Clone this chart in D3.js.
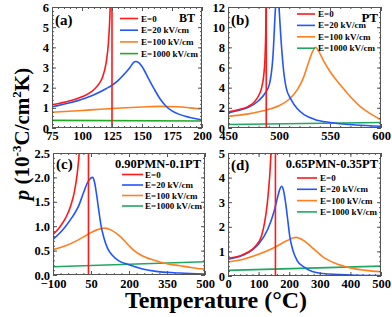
<!DOCTYPE html>
<html>
<head>
<meta charset="utf-8">
<script src="https://d3js.org/d3.v7.min.js"></script>
<style>
  body { margin: 0; background: #fff; }
  svg text { font-family: "Liberation Serif", "Times New Roman", serif; font-weight: bold; }
  .axis text { font-size: 12.5px; fill: #000; }
  .axis line { stroke: #555; }
  .axis path { display: none; }
  .frame { fill: none; stroke: #555; stroke-width: 1; }
  .curve { fill: none; stroke-width: 1.6; }
</style>
</head>
<body>
<script>
// ---- data ----
var legendLabels = ["E=0", "E=20 kV/cm", "E=100 kV/cm", "E=1000 kV/cm"];
var panelTags = ["(a)", "(b)", "(c)", "(d)"];
var panelNames = ["BT", "PT", "0.90PMN-0.1PT", "0.65PMN-0.35PT"];
var curieT = [125, 487.5, 40, 155];

// (a) BT
var btX = [75, 200], btY = [0, 6];
var btXTicks = [75, 100, 125, 150, 175, 200];
var btYTicks = [0, 1, 2, 3, 4, 5, 6];
var btE0 = [[75,1.15],[90,1.35],[100,1.55],[108,1.8],[113,2.1],[117,2.5],[120,3.2],[122,4.2],[123,5.2],[123.8,6.5]];
var btE20 = [[75,1.05],[90,1.25],[100,1.43],[110,1.65],[120,1.95],[125,2.12],[130,2.35],[135,2.66],[140,3.0],[143,3.25],[145,3.3],[147,3.25],[150,3.05],[155,2.5],[160,1.95],[165,1.45],[170,1.08],[175,0.85],[180,0.7],[190,0.52],[200,0.4]];
var btE100 = [[75,0.78],[100,0.87],[125,0.97],[150,1.04],[165,1.07],[180,1.05],[190,1.0],[200,0.94]];
var btE1000 = [[75,0.38],[200,0.35]];

// (b) PT
var ptX = [450, 600], ptY = [0, 12];
var ptXTicks = [450, 500, 550, 600];
var ptYTicks = [0, 2, 4, 6, 8, 10, 12];
var ptE0 = [[450,1.6],[460,1.8],[470,2.15],[476,2.6],[480,3.2],[483,4.0],[485,5.2],[486.3,7],[487,9.5],[487.4,12.5]];
var ptE20 = [[450,1.5],[460,1.75],[470,2.05],[480,2.7],[486,3.4],[490.5,4.3],[494,7],[496.6,12],[498.3,14],[500,12],[501.5,9.5],[504,6.2],[507,4.0],[512,2.8],[518,1.9],[525,1.3],[535,0.85],[550,0.55],[575,0.3],[600,0.18]];
var ptE100 = [[450,1.15],[470,1.4],[490,1.85],[500,2.2],[510,2.85],[518,3.8],[524,5.0],[529,6.5],[533,7.6],[536,8.0],[539,7.6],[544,6.6],[550,5.6],[555,4.9],[560,4.3],[570,3.1],[580,2.1],[590,1.4],[600,0.8]];
var ptE1000 = [[450,0.35],[600,0.55]];

// (c) 0.90PMN-0.1PT
var pmn10X = [-100, 500], pmn10Y = [0, 2.5];
var pmn10XTicks = [-100, 50, 200, 350, 500];
var pmn10YTicks = [0, 0.5, 1.0, 1.5, 2.0, 2.5];
var pmn10E0 = [[-100,0.83],[-75,0.97],[-50,1.17],[-30,1.42],[-15,1.72],[-5,2.05],[2,2.4],[6,2.7]];
var pmn10E20 = [[-100,0.73],[-75,0.85],[-50,1.0],[-25,1.18],[0,1.4],[20,1.68],[35,1.88],[48,1.98],[56,2.0],[64,1.9],[72,1.65],[80,1.35],[90,1.0],[100,0.78],[115,0.55],[135,0.4],[160,0.29],[200,0.21],[250,0.13],[300,0.08],[400,0.04],[500,0.02]];
var pmn10E100 = [[-100,0.52],[-50,0.6],[0,0.72],[40,0.84],[75,0.93],[105,0.96],[130,0.92],[165,0.79],[200,0.6],[220,0.5],[250,0.4],[300,0.3],[350,0.23],[400,0.19],[450,0.15],[500,0.12]];
var pmn10E1000 = [[-100,0.17],[500,0.27]];

// (d) 0.65PMN-0.35PT
var pmn35X = [0, 500], pmn35Y = [0, 5];
var pmn35XTicks = [0, 100, 200, 300, 400, 500];
var pmn35YTicks = [0, 1, 2, 3, 4, 5];
var pmn35E0 = [[0,0.72],[50,0.88],[90,1.22],[110,1.65],[120,2.2],[128,2.9],[134,3.7],[138,4.4],[142,5.4]];
var pmn35E20 = [[0,0.68],[50,0.85],[100,1.3],[130,1.9],[150,2.6],[162,3.2],[170,3.55],[175,3.65],[180,3.55],[188,3.0],[195,2.3],[202,1.6],[212,1.05],[225,0.65],[250,0.35],[275,0.18],[310,0.1],[400,0.04],[500,0.02]];
var pmn35E100 = [[0,0.57],[50,0.68],[100,0.88],[150,1.15],[190,1.42],[222,1.57],[250,1.42],[280,1.1],[310,0.78],[350,0.52],[400,0.33],[450,0.23],[500,0.17]];
var pmn35E1000 = [[0,0.23],[500,0.4]];

var colors = ["#ff1a1a", "#2255ff", "#ff7f1e", "#1fa860"];

// ---- layout ----
var width = 392, height = 317;
var svg = d3.select("body").append("svg").attr("width", width).attr("height", height);

var panels = [
  { box: [52, 202, 7, 128], xd: btX, yd: btY, xt: btXTicks, yt: btYTicks, xm: 5, ym: 0.2, fmt: d3.format("d"),
    series: [btE0, btE20, btE100, btE1000], green: "#22aa22", pad: 3,
    tag: [55, 25], name: [195, 22, 12], leg: [120, 138, 141, 18.5, 11.7] },
  { box: [228, 381, 7, 128], xd: ptX, yd: ptY, xt: ptXTicks, yt: ptYTicks, xm: 10, ym: 0.5, fmt: d3.format("d"),
    series: [ptE0, ptE20, ptE100, ptE1000], green: colors[3], pad: 3,
    tag: [231, 25], name: [378, 22, 13], leg: [297, 315, 318, 14, 11.4] },
  { box: [53, 205, 153, 275], xd: pmn10X, yd: pmn10Y, xt: pmn10XTicks, yt: pmn10YTicks, xm: 30, ym: 0.1, fmt: d3.format(".1f"),
    series: [pmn10E0, pmn10E20, pmn10E100, pmn10E1000], green: colors[3], pad: 4,
    tag: [56, 169], name: [201, 168, 12.5], leg: [122, 143, 145, 174.5, 10.5] },
  { box: [228, 381, 153, 276], xd: pmn35X, yd: pmn35Y, xt: pmn35XTicks, yt: pmn35YTicks, xm: 20, ym: 0.2, fmt: d3.format("d"),
    series: [pmn35E0, pmn35E20, pmn35E100, pmn35E1000], green: colors[3], pad: 3,
    tag: [231, 170], name: [378, 168, 12.5], leg: [297, 317, 320, 178, 11.3] }
];

var line = d3.line().x(function(d){ return d[0]; }).y(function(d){ return d[1]; }).curve(d3.curveMonotoneX);

panels.forEach(function(p, i) {
  var x = d3.scaleLinear().domain(p.xd).range([p.box[0], p.box[1]]);
  var y = d3.scaleLinear().domain(p.yd).range([p.box[3], p.box[2]]);

  svg.append("clipPath").attr("id", "clip" + i).append("rect")
    .attr("x", p.box[0]).attr("y", p.box[2])
    .attr("width", p.box[1] - p.box[0]).attr("height", p.box[3] - p.box[2]);

  var g = svg.append("g").attr("clip-path", "url(#clip" + i + ")");

  var colset = [colors[0], colors[1], colors[2], p.green];
  // E=1000 first, red last (on top)
  [3, 2, 1, 0].forEach(function(k) {
    g.append("path").attr("class", "curve").attr("stroke", colset[k])
      .attr("d", line(p.series[k].map(function(d){ return [x(d[0]), y(d[1])]; })));
  });
  // E=0 above Tc: vertical jump, then zero
  var tc = curieT[i];
  g.append("path").attr("class", "curve").attr("stroke", colors[0]).attr("stroke-width", 2)
    .attr("d", d3.line()([[x(tc), y(p.yd[1])], [x(tc), y(0)], [x(p.xd[1]), y(0)]]));

  // minor ticks
  var xMinor = d3.range(p.xd[0], p.xd[1] + 1e-9, p.xm);
  var yMinor = d3.range(p.yd[0], p.yd[1] + 1e-9, p.ym);
  svg.append("g").attr("class", "axis").attr("transform", "translate(0," + p.box[3] + ")")
    .call(d3.axisBottom(x).tickValues(xMinor).tickSize(-2).tickFormat(""));
  svg.append("g").attr("class", "axis").attr("transform", "translate(0," + p.box[2] + ")")
    .call(d3.axisTop(x).tickValues(xMinor).tickSize(-2).tickFormat(""));
  svg.append("g").attr("class", "axis").attr("transform", "translate(" + p.box[0] + ",0)")
    .call(d3.axisLeft(y).tickValues(yMinor).tickSize(-2).tickFormat(""));
  svg.append("g").attr("class", "axis").attr("transform", "translate(" + p.box[1] + ",0)")
    .call(d3.axisRight(y).tickValues(yMinor).tickSize(-2).tickFormat(""));

  // major ticks + labels
  svg.append("g").attr("class", "axis").attr("transform", "translate(0," + p.box[3] + ")")
    .call(d3.axisBottom(x).tickValues(p.xt).tickSize(-4).tickSizeOuter(0).tickPadding(p.pad).tickFormat(d3.format("d")));
  svg.append("g").attr("class", "axis").attr("transform", "translate(0," + p.box[2] + ")")
    .call(d3.axisTop(x).tickValues(p.xt).tickSize(-4).tickSizeOuter(0).tickFormat(""));
  svg.append("g").attr("class", "axis").attr("transform", "translate(" + p.box[0] + ",0)")
    .call(d3.axisLeft(y).tickValues(p.yt).tickSize(-4).tickSizeOuter(0).tickPadding(3).tickFormat(p.fmt));
  svg.append("g").attr("class", "axis").attr("transform", "translate(" + p.box[1] + ",0)")
    .call(d3.axisRight(y).tickValues(p.yt).tickSize(-4).tickSizeOuter(0).tickFormat(""));

  svg.append("rect").attr("class", "frame")
    .attr("x", p.box[0] + 0.5).attr("y", p.box[2] + 0.5)
    .attr("width", p.box[1] - p.box[0] - 1).attr("height", p.box[3] - p.box[2] - 1);

  // panel tag and material name
  svg.append("text").attr("x", p.tag[0]).attr("y", p.tag[1])
    .style("font-size", "15px").text(panelTags[i]);
  svg.append("text").attr("x", p.name[0]).attr("y", p.name[1]).attr("text-anchor", "end")
    .style("font-size", p.name[2] + "px").text(panelNames[i]);

  // legend
  var lg = p.leg;
  legendLabels.forEach(function(lab, k) {
    var yy = lg[3] + k * lg[4];
    svg.append("line").attr("x1", lg[0]).attr("x2", lg[1]).attr("y1", yy).attr("y2", yy)
      .attr("stroke", colset[k]).attr("stroke-width", 1.6);
    svg.append("text").attr("x", lg[2]).attr("y", yy + 3).style("font-size", "9px").text(lab);
  });
});

// axis titles
var yl = svg.append("text").attr("transform", "translate(29,134) rotate(-90)")
  .attr("text-anchor", "middle").style("font-size", "21px");
yl.append("tspan").style("font-style", "italic").text("p");
yl.append("tspan").text(" (10");
yl.append("tspan").attr("dy", -8).style("font-size", "13px").text("-3");
yl.append("tspan").attr("dy", 8).text("C/cm");
yl.append("tspan").attr("dy", -8).style("font-size", "13px").text("2");
yl.append("tspan").attr("dy", 8).text("K)");

svg.append("text").attr("x", 216).attr("y", 308).attr("text-anchor", "middle")
  .style("font-size", "24px").text("Temperature (\u00b0C)");
</script>
</body>
</html>
